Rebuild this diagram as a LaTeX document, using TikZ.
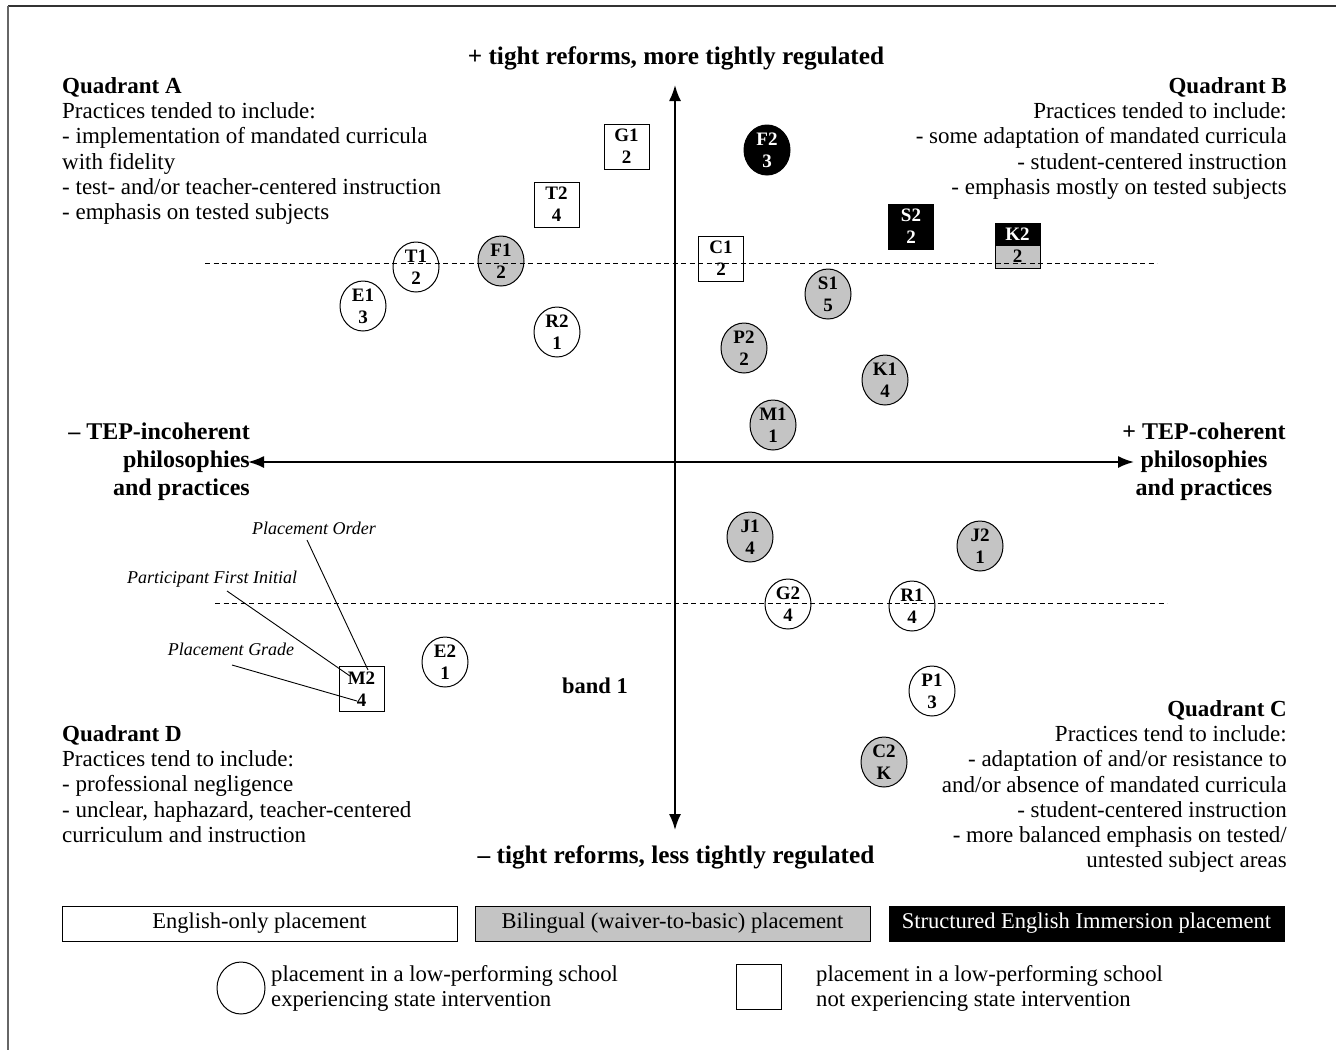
\documentclass[tikz,border=0pt]{standalone}
\usepackage{fontspec}
\setmainfont{Liberation Serif}
\usetikzlibrary{arrows.meta,shapes.geometric}
\definecolor{fillgray}{HTML}{C4C4C4}
\begin{document}
\begin{tikzpicture}[x=1pt,y=-1pt,
  lbl/.style={font=\bfseries\fontsize{19}{22}\selectfont},
  circ/.style={ellipse, draw, line width=1pt, minimum width=46, minimum height=50, inner sep=0pt, align=center, lbl},
  gcirc/.style={circ, fill=fillgray},
  bcirc/.style={circ, fill=black, text=white},
  sq/.style={rectangle, draw, line width=1pt, minimum width=45, minimum height=45, inner sep=0pt, align=center, lbl},
  bsq/.style={sq, fill=black, text=white},
  qtext/.style={font=\fontsize{23}{25.3}\selectfont, inner sep=0pt},
  axlabel/.style={font=\bfseries\fontsize{24}{28}\selectfont, inner sep=0pt},
  axlabelwide/.style={font=\bfseries\fontsize{25.3}{28}\selectfont, inner sep=0pt},
  annot/.style={font=\itshape\fontsize{18}{21}\selectfont, inner sep=0pt},
  axis/.style={line width=1.8pt, {Latex[length=16,width=12]}-{Latex[length=16,width=12]}},
  band/.style={line width=0.9pt, dash pattern=on 5pt off 3.5pt},
  legbox/.style={rectangle, draw, line width=1pt, minimum width=395, minimum height=35, inner sep=0pt, font=\fontsize{22.5}{25}\selectfont},
  legtext/.style={inner sep=0pt, anchor=west, align=left, font=\fontsize{22.7}{25}\selectfont},
  pointer/.style={line width=0.9pt}
]
\useasboundingbox (0,0) rectangle (1336,1050);
% frame
\draw[line width=1.5pt, black!80] (1336,6) -- (8,6);
\draw[line width=2pt, black!60] (8,6) -- (8,1050);

% axes
\coordinate (ytop) at (675,85);
\coordinate (ybot) at (675,830);
\coordinate (xleft) at (248,462);
\coordinate (xright) at (1134,462);
\draw[axis] (ybot) -- (ytop);
\draw[axis] (xleft) -- (xright);

% axis labels
\node[axlabelwide, anchor=base] (toplab) at (676,64) {+ tight reforms, more tightly regulated};
\node[axlabelwide, anchor=base] (botlab) at (676,863) {– tight reforms, less tightly regulated};
\node[axlabel, anchor=north east, align=right] (leftlab) at (250,423) {– TEP-incoherent\\philosophies\\and practices};
\node[axlabel, anchor=north, align=center] (rightlab) at (1204,423) {+ TEP-coherent\\philosophies\\and practices};

% quadrant texts
\node[qtext, anchor=north west, align=left] (qA) at (62,77) {\textbf{Quadrant A}\\Practices tended to include:\\- implementation of mandated curricula\\with fidelity\\- test- and/or teacher-centered instruction\\- emphasis on tested subjects};
\node[qtext, anchor=north east, align=right] (qB) at (1287,77) {\textbf{Quadrant B}\\Practices tended to include:\\- some adaptation of mandated curricula\\- student-centered instruction\\- emphasis mostly on tested subjects};
\node[qtext, anchor=north east, align=right] (qC) at (1287,700) {\textbf{Quadrant C}\\Practices tend to include:\\- adaptation of and/or resistance to\\and/or absence of mandated curricula\\- student-centered instruction\\- more balanced emphasis on tested/\\untested subject areas};
\node[qtext, anchor=north west, align=left] (qD) at (62,725) {\textbf{Quadrant D}\\Practices tend to include:\\- professional negligence\\- unclear, haphazard, teacher-centered\\curriculum and instruction};

\node[qtext, font=\bfseries\fontsize{22.5}{25}\selectfont] (band) at (595,686) {band 1};

% placements: squares
\node[sq] (G1) at (626.5,146.5) {G1\\2};
\node[sq] (T2) at (556.5,204.5) {T2\\4};
\node[sq] (C1) at (721,258.5) {C1\\2};
\node[bsq] (S2) at (911,226.5) {S2\\2};
\node[sq, path picture={
   \fill[black] (path picture bounding box.north west) rectangle (path picture bounding box.east);
   \fill[fillgray] (path picture bounding box.west) rectangle (path picture bounding box.south east);}]
   (K2) at (1017.5,245.5) {\textcolor{white}{K2}\\2};
\node[sq] (M2) at (361.5,689) {M2\\4};

% placements: circles
\node[circ] (T1) at (416,267) {T1\\2};
\node[circ] (E1) at (363,306) {E1\\3};
\node[gcirc] (F1) at (501,261) {F1\\2};
\node[circ] (R2) at (557,332) {R2\\1};
\node[bcirc] (F2) at (767,150) {F2\\3};
\node[gcirc] (S1) at (828,294) {S1\\5};
\node[gcirc] (P2) at (744,348) {P2\\2};
\node[gcirc] (K1) at (885,380) {K1\\4};
\node[gcirc] (M1) at (773,425) {M1\\1};
\node[gcirc] (J1) at (750,537) {J1\\4};
\node[gcirc] (J2) at (980,546) {J2\\1};
\node[circ] (G2) at (788,604) {G2\\4};
\node[circ] (R1) at (912,606) {R1\\4};
\node[circ] (P1) at (932,691) {P1\\3};
\node[gcirc] (C2) at (884,762) {C2\\K};
\node[circ] (E2) at (445,662) {E2\\1};

% band lines
\coordinate (b1l) at (205,263);
\coordinate (b1r) at (1157,263);
\coordinate (b2l) at (215,603);
\coordinate (b2r) at (1167,603);
\draw[band] (b1l) -- (b1r);
\draw[band] (b2l) -- (b2r);

% annotation of M2
\node[annot] (PO) at (314,528) {Placement Order};
\node[annot] (PFI) at (212,579) {Participant First Initial};
\node[annot] (PG) at (231,649) {Placement Grade};
\coordinate (POs) at (307,540);
\coordinate (PFIs) at (227,591);
\coordinate (PGs) at (232,665);
\coordinate (POe) at (368,670);
\coordinate (PFIe) at (350,676);
\coordinate (PGe) at (357,701);
\draw[pointer] (POs) -- (POe);
\draw[pointer] (PFIs) -- (PFIe);
\draw[pointer] (PGs) -- (PGe);

% legend
\node[legbox] (legE) at (259.5,923.5) {English-only placement};
\node[legbox, fill=fillgray] (legB) at (672.5,923.5) {Bilingual (waiver-to-basic) placement};
\node[legbox, fill=black, text=white] (legS) at (1086.5,923.5) {Structured English Immersion placement};
\node[ellipse, draw, line width=1pt, minimum width=48, minimum height=52, inner sep=0pt] (legC) at (241,988) {};
\node[legtext] (legCt) at (271,988) {placement in a low-performing school\\experiencing state intervention};
\node[rectangle, draw, line width=1pt, minimum width=45, minimum height=45, inner sep=0pt] (legQ) at (758.5,986.5) {};
\node[legtext] (legQt) at (816,988) {placement in a low-performing school\\not experiencing state intervention};
\end{tikzpicture}
\end{document}
